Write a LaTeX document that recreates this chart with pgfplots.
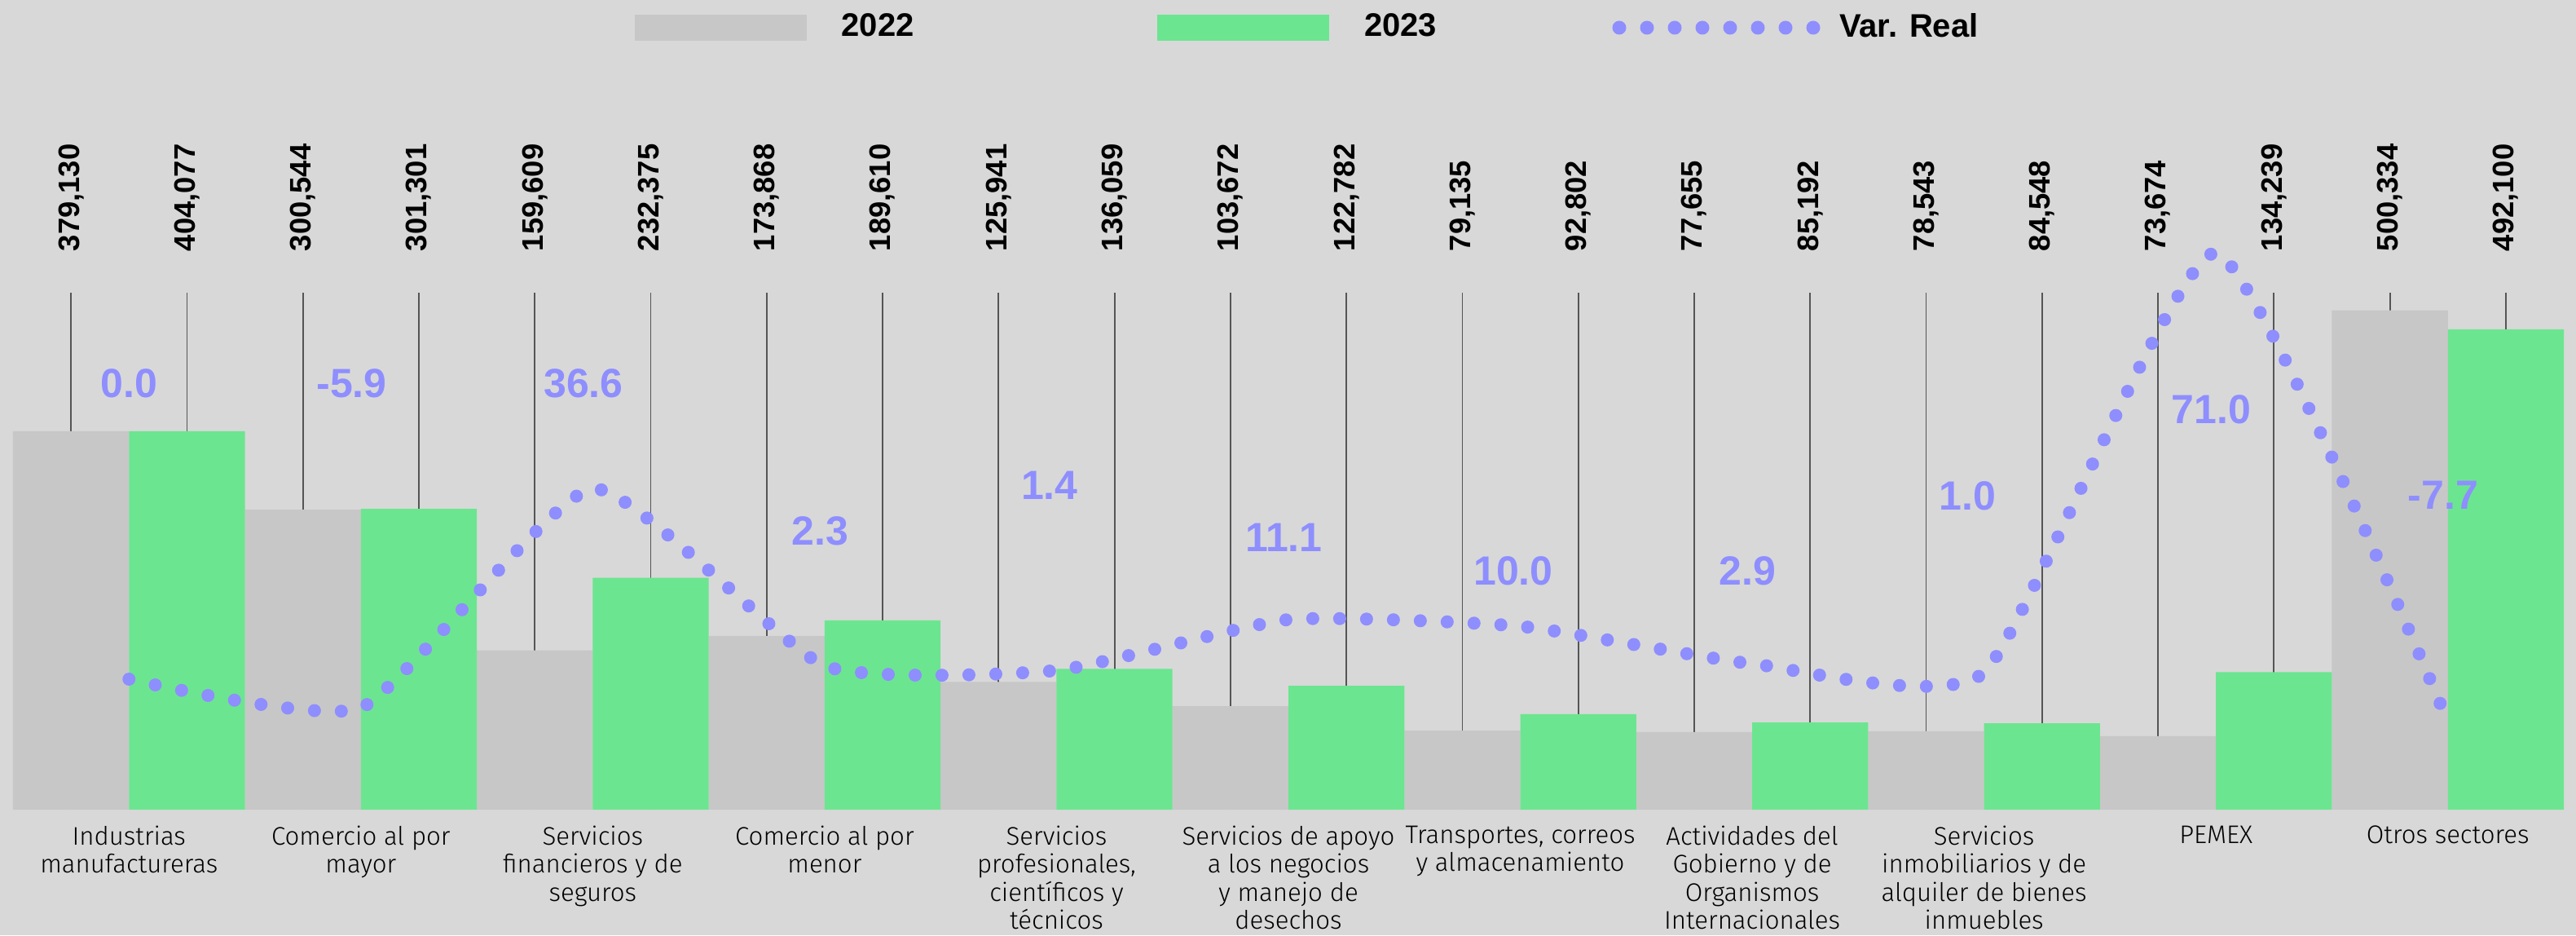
\documentclass[border=0pt]{standalone}
\usepackage{fontspec}
\setmainfont{Liberation Sans}
\newfontfamily\catfont{Fira Sans Light}
\usepackage{pgfplots}
\pgfplotsset{compat=1.18}
\usepackage{pgfplotstable}

\definecolor{bgc}{HTML}{D8D8D8}
\definecolor{bara}{HTML}{C7C7C7}
\definecolor{barb}{HTML}{6CE590}
\definecolor{purp}{HTML}{8E8EFF}
\definecolor{stem}{HTML}{555555}

% 2022 bars (x = group index - 0.25)
\pgfplotstableread{
x y
-0.25 379130
0.75 300544
1.75 159609
2.75 173868
3.75 128000
4.75 103672
5.75 79135
6.75 77655
7.75 78543
8.75 73674
9.75 500334
}\tabA
% 2023 bars (heights as drawn)
\pgfplotstableread{
x y
0.25 379130
1.25 301301
2.25 232375
3.25 189610
4.25 141000
5.25 124000
6.25 95600
7.25 87400
8.25 86600
9.25 137700
10.25 481300
}\tabB
% stems and value labels
\pgfplotstableread{
x top ly v
-0.25 518000 558900 379130
0.25 518000 558900 404077
0.75 518000 558900 300544
1.25 518000 558900 301301
1.75 518000 558900 159609
2.25 518000 558900 232375
2.75 518000 558900 173868
3.25 518000 558900 189610
3.75 518000 558900 125941
4.25 518000 558900 136059
4.75 518000 558900 103672
5.25 518000 558900 122782
5.75 518000 558900 79135
6.25 518000 558900 92802
6.75 518000 558900 77655
7.25 518000 558900 85192
7.75 518000 558900 78543
8.25 518000 558900 84548
8.75 518000 558900 73674
9.25 518000 558900 134239
9.75 518000 558900 500334
10.25 518000 558900 492100
}\stems
% Var. Real line (as drawn)
\pgfplotstableread{
x v
0 0.0
1 -5.6
2 37.1
3 2.6
4 1.7
5 11.6
6 10.3
7 3.0
8 1.3
9 83.0
10 -8.3
}\varline
% Var. Real labels
\pgfplotstableread{
x y v
0.00 57.6 0.0
0.96 57.6 -5.9
1.96 57.6 36.6
2.98 28.9 2.3
3.97 37.8 1.4
4.98 27.6 11.1
5.97 21.1 10.0
6.98 21.1 2.9
7.93 35.6 1.0
8.98 52.5 71.0
9.98 35.9 -7.7
}\varlab

\begin{document}
\begin{tikzpicture}
\useasboundingbox (0,0) rectangle (790.25pt,286.75pt);
\fill[bgc] (0,0) rectangle (790.25pt,286.75pt);

\begin{axis}[
  at={(4pt,38.5pt)}, anchor=south west,
  scale only axis, width=782.5pt, height=173.25pt,
  xmin=-0.5, xmax=10.5, ymin=0, ymax=566200,
  clip=false,
  axis line style={draw=none}, tick style={draw=none},
  major tick length=0pt,
  ytick=\empty,
  xtick={0,1,2,3,4,5,6,7,8,9,10},
  xticklabels={
    {Industrias\\manufactureras},
    {Comercio al por\\mayor},
    {Servicios\\financieros y de\\seguros},
    {Comercio al por\\menor},
    {Servicios\\profesionales,\\científicos y\\técnicos},
    {Servicios de apoyo\\a los negocios\\y manejo de\\desechos},
    {Transportes, correos\\y almacenamiento},
    {Actividades del\\Gobierno y de\\Organismos\\Internacionales},
    {Servicios\\inmobiliarios y de\\alquiler de bienes\\inmuebles},
    {PEMEX},
    {Otros sectores}},
  xticklabel style={font=\catfont\fontsize{7.8}{8.6}\selectfont, align=center, anchor=north, inner sep=0pt, text=black},
  xticklabel shift=4.8pt,
  /pgf/number format/assume math mode=true,
]
\addplot[ycomb, draw=stem, line width=0.45pt, mark=none] table[x=x, y=top]{\stems};
\addplot[ybar, bar width=0.5, bar shift=0pt, fill=bara, draw=none] table[x=x, y=y]{\tabA};
\addplot[ybar, bar width=0.5, bar shift=0pt, fill=barb, draw=none] table[x=x, y=y]{\tabB};
\addplot[draw=none, mark=none, point meta=explicit,
  nodes near coords={\pgfmathprintnumber[fixed, precision=0, 1000 sep={,}]{\pgfplotspointmeta}},
  every node near coord/.append style={rotate=90, anchor=west, inner sep=0pt, text=black,
    font=\fontsize{9.1}{10}\selectfont\bfseries}]
  table[x=x, y=ly, meta=v]{\stems};
\end{axis}

\begin{axis}[
  at={(4pt,38.5pt)}, anchor=south west,
  scale only axis, width=782.5pt, height=173.25pt,
  xmin=-0.5, xmax=10.5, ymin=-25.397, ymax=84.603,
  clip=false, hide axis,
  /pgf/number format/assume math mode=true,
  legend columns=3,
  legend cell align=left,
  legend style={at={(0.24377,1.38384)}, anchor=west,
    draw=none, fill=none, inner sep=0pt, outer sep=0pt,
    font=\fontsize{10}{12}\selectfont\bfseries,
    nodes={inner sep=0pt},
    column sep=10.75pt},
]
\addlegendimage{legend image code/.code={\fill[bara] (0pt,-3.75pt) rectangle (52.25pt,3.75pt);}}
\addlegendentry[text width=86.2pt, align=left]{2022}
\addlegendimage{legend image code/.code={\fill[barb] (0pt,-3.75pt) rectangle (52.25pt,3.75pt);}}
\addlegendentry[text width=65.4pt, align=left]{2023}
\addlegendimage{legend image code/.code={\path[draw=none, fill=none, use as bounding box] (-2.1pt,-3.75pt) rectangle (56.75pt,3.75pt);
  \draw[purp, line width=4.25pt, line cap=round, dash pattern=on 0pt off 8.5pt] (0pt,0pt) -- (59.6pt,0pt);}}
\addlegendentry{Var. Real}

\addplot[forget plot, smooth, tension=0.3, draw=purp, line width=4pt, line cap=round, dash pattern=on 0pt off 8.25pt, mark=none]
  table[x=x, y=v]{\varline};
\addplot[forget plot, draw=none, mark=none, point meta=explicit,
  nodes near coords={\pgfmathprintnumber[fixed, fixed zerofill, precision=1]{\pgfplotspointmeta}},
  every node near coord/.append style={anchor=center, inner sep=0pt, text=purp,
    font=\fontsize{12.5}{14}\selectfont\bfseries}]
  table[x=x, y=y, meta=v]{\varlab};
\end{axis}
\end{tikzpicture}
\end{document}
